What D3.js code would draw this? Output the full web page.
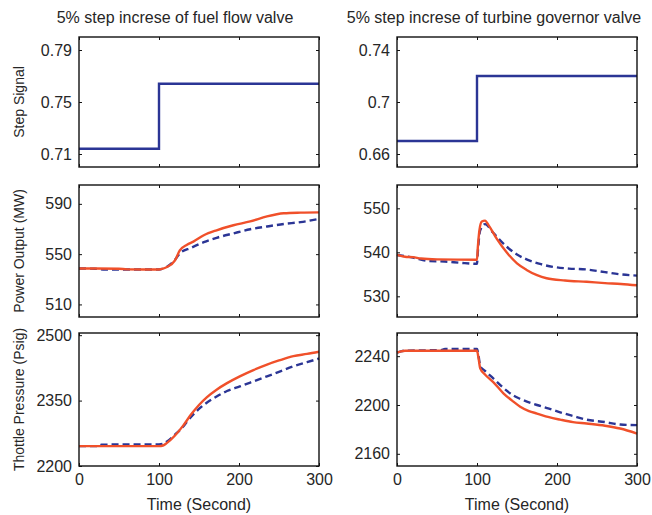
<!DOCTYPE html>
<html>
<head>
<meta charset="utf-8">
<script src="https://cdn.jsdelivr.net/npm/d3@7"></script>
<style>
  body { margin: 0; background: #fff; }
  svg { font-family: "Liberation Sans", Arial, sans-serif; }
</style>
</head>
<body>
<div id="chart"></div>
<script>
// Spaltentitel und Achsen
const colTitles = ["5% step increse of fuel flow valve", "5% step increse of turbine governor valve"];
const rowLabels = ["Step Signal", "Power Output (MW)", "Thottle Pressure (Psig)"];
const xLabel = "Time (Second)";
const xTicks = [0, 100, 200, 300];

// Sprungsignale
const stepTime = [0, 100, 300];
const stepFuel = [0.714, 0.764, 0.764];
const stepTurbine = [0.67, 0.72, 0.72];

// Leistung, Brennstoffventil
const powFuelTime = [0, 20, 50, 60, 100, 104, 110, 120, 126, 135, 143, 156, 172, 193, 214, 235, 256, 277, 300];
const powFuelRed  = [538.6, 538.6, 538.4, 537.9, 537.8, 538.3, 539.8, 545, 553, 557.5, 560, 565, 569, 573, 576, 580, 582.5, 583, 583.2];
const powFuelBlueTime = [0, 20, 30, 100, 104, 110, 120, 126, 140, 156, 172, 193, 214, 235, 256, 277, 300];
const powFuelBlue = [538.6, 538.4, 537.8, 537.8, 538.3, 540, 545.5, 550.6, 555, 559.5, 563, 566.5, 569.8, 572, 574, 575.5, 578];

// Leistung, Turbinenventil
const powTurbTime = [0, 10, 20, 30, 50, 100, 101, 103, 106, 110, 115, 125, 137, 150, 162, 175, 187, 210, 237, 260, 280, 300];
const powTurbRed  = [539.4, 539, 538.9, 538.6, 538.4, 538.3, 541, 545, 547, 547.2, 546, 543, 540, 537.5, 536, 534.8, 534.1, 533.6, 533.3, 533, 532.8, 532.5];
const powTurbBlueTime = [0, 20, 40, 60, 80, 100, 101, 104, 110, 120, 137, 150, 162, 180, 195, 215, 237, 260, 279, 300];
const powTurbBlue = [539.4, 538.8, 538, 537.9, 537.6, 537.4, 540, 545, 546.4, 544.5, 541.3, 539.5, 538.4, 537.3, 536.7, 536.3, 536.1, 535.5, 535, 534.7];

// Druck, Brennstoffventil
const presFuelTime = [0, 100, 105, 110, 120, 130, 140, 150, 160, 172, 185, 201, 218, 235, 250, 268, 285, 300];
const presFuelRed  = [2245.5, 2245.5, 2247, 2253, 2270, 2292, 2318, 2340, 2358, 2375, 2390, 2405.6, 2420, 2432.6, 2442, 2452, 2457, 2462];
const presFuelBlueTime = [0, 25, 28, 100, 105, 110, 120, 130, 135, 151, 172, 185, 201, 218, 235, 250, 268, 285, 300];
const presFuelBlue = [2245.5, 2245.5, 2249, 2249.5, 2251, 2256, 2272, 2290, 2301.6, 2332.6, 2359.4, 2372, 2382.5, 2394, 2405.6, 2416, 2428.7, 2438, 2446.5];

// Druck, Turbinenventil
const presTurbTime = [0, 5, 10, 100, 102, 104, 110, 120, 133, 145, 154, 165, 175, 190, 204, 220, 237, 260, 279, 300];
const presTurbRed  = [2243, 2244, 2244.5, 2244.5, 2238, 2230, 2225, 2219, 2209.6, 2203, 2198.6, 2195, 2193, 2190, 2188, 2186, 2184.8, 2183, 2180.7, 2176.6];
const presTurbBlueTime = [0, 5, 10, 55, 60, 100, 102, 104, 110, 120, 133, 145, 154, 175, 190, 204, 220, 237, 260, 279, 300];
const presTurbBlue = [2243, 2244, 2244.5, 2245, 2246, 2246, 2240, 2232, 2228, 2222, 2214, 2208, 2205, 2200, 2197, 2194, 2191, 2188, 2186, 2184, 2183.5];

const blue = "#2b3595";
const red = "#f0502a";
const textColor = "#262626";

const width = 652, height = 515;
const colX = [[79, 319], [397, 637]];
const rowY = [[37, 167], [185, 317], [333, 466]];

const zip = (t, v) => t.map((d, i) => [d, v[i]]);

// Panels: [Zeile][Spalte]
const panels = [
  [
    { domain: [0.70, 0.80], ticks: [0.71, 0.75, 0.79], fmt: d3.format(".2f"),
      series: [{ data: zip(stepTime, stepFuel), color: blue, dash: null, step: true }] },
    { domain: [0.65, 0.75], ticks: [0.66, 0.70, 0.74], fmt: d => d === 0.7 ? "0.7" : d3.format(".2f")(d),
      series: [{ data: zip(stepTime, stepTurbine), color: blue, dash: null, step: true }] }
  ],
  [
    { domain: [500, 605], ticks: [510, 550, 590], fmt: d3.format("d"),
      series: [{ data: zip(powFuelBlueTime, powFuelBlue), color: blue, dash: "7,4" },
               { data: zip(powFuelTime, powFuelRed), color: red, dash: null }] },
    { domain: [525.3, 555.3], ticks: [530, 540, 550], fmt: d3.format("d"),
      series: [{ data: zip(powTurbBlueTime, powTurbBlue), color: blue, dash: "7,4" },
               { data: zip(powTurbTime, powTurbRed), color: red, dash: null }] }
  ],
  [
    { domain: [2200, 2505], ticks: [2200, 2350, 2500], fmt: d3.format("d"),
      series: [{ data: zip(presFuelBlueTime, presFuelBlue), color: blue, dash: "7,4" },
               { data: zip(presFuelTime, presFuelRed), color: red, dash: null }] },
    { domain: [2150, 2259], ticks: [2160, 2200, 2240], fmt: d3.format("d"),
      series: [{ data: zip(presTurbBlueTime, presTurbBlue), color: blue, dash: "7,4" },
               { data: zip(presTurbTime, presTurbRed), color: red, dash: null }] }
  ]
];

const svg = d3.select("#chart").append("svg")
  .attr("width", width)
  .attr("height", height);

panels.forEach((row, r) => {
  row.forEach((p, c) => {
    const x = d3.scaleLinear().domain([0, 300]).range(colX[c]);
    const y = d3.scaleLinear().domain(p.domain).range([rowY[r][1], rowY[r][0]]);
    const g = svg.append("g");

    // Linien
    p.series.forEach(s => {
      const line = d3.line()
        .x(d => x(d[0]))
        .y(d => y(d[1]))
        .curve(s.step ? d3.curveStepAfter : d3.curveMonotoneX);
      g.append("path")
        .datum(s.data)
        .attr("fill", "none")
        .attr("stroke", s.color)
        .attr("stroke-width", 2.4)
        .attr("stroke-dasharray", s.dash)
        .attr("d", line);
    });

    // Achsen (Ticks nach innen)
    const left = g.append("g")
      .attr("transform", `translate(${colX[c][0]},0)`)
      .call(d3.axisLeft(y).tickValues(p.ticks).tickFormat(p.fmt).tickSize(-3).tickPadding(7));
    const right = g.append("g")
      .attr("transform", `translate(${colX[c][1]},0)`)
      .call(d3.axisRight(y).tickValues(p.ticks).tickFormat("").tickSize(-3));
    const bottom = g.append("g")
      .attr("transform", `translate(0,${rowY[r][1]})`)
      .call(d3.axisBottom(x).tickValues(xTicks).tickFormat(r === 2 ? d3.format("d") : "").tickSize(-3).tickPadding(8));
    const top = g.append("g")
      .attr("transform", `translate(0,${rowY[r][0]})`)
      .call(d3.axisTop(x).tickValues(xTicks).tickFormat("").tickSize(-3));

    [left, right, bottom, top].forEach(a => {
      a.select(".domain").remove();
      a.selectAll("line").attr("stroke", "#111").attr("stroke-width", 1);
      a.selectAll("text").attr("fill", textColor).attr("font-size", 16);
    });

    // Rahmen
    g.append("rect")
      .attr("x", colX[c][0])
      .attr("y", rowY[r][0])
      .attr("width", colX[c][1] - colX[c][0])
      .attr("height", rowY[r][1] - rowY[r][0])
      .attr("fill", "none")
      .attr("stroke", "#111")
      .attr("stroke-width", 1.4);
  });

  // Zeilenbeschriftung
  const cy = (rowY[r][0] + rowY[r][1]) / 2;
  svg.append("text")
    .attr("transform", `translate(24,${cy}) rotate(-90)`)
    .attr("text-anchor", "middle")
    .attr("fill", textColor)
    .attr("font-size", 14)
    .text(rowLabels[r]);
});

// Titel
[175, 494].forEach((cx, i) => {
  svg.append("text")
    .attr("x", cx)
    .attr("y", 23)
    .attr("text-anchor", "middle")
    .attr("fill", textColor)
    .attr("font-size", 16)
    .text(colTitles[i]);
});

// x-Beschriftung
colX.forEach(([a, b]) => {
  svg.append("text")
    .attr("x", (a + b) / 2)
    .attr("y", 510)
    .attr("text-anchor", "middle")
    .attr("fill", textColor)
    .attr("font-size", 16)
    .text(xLabel);
});
</script>
</body>
</html>
